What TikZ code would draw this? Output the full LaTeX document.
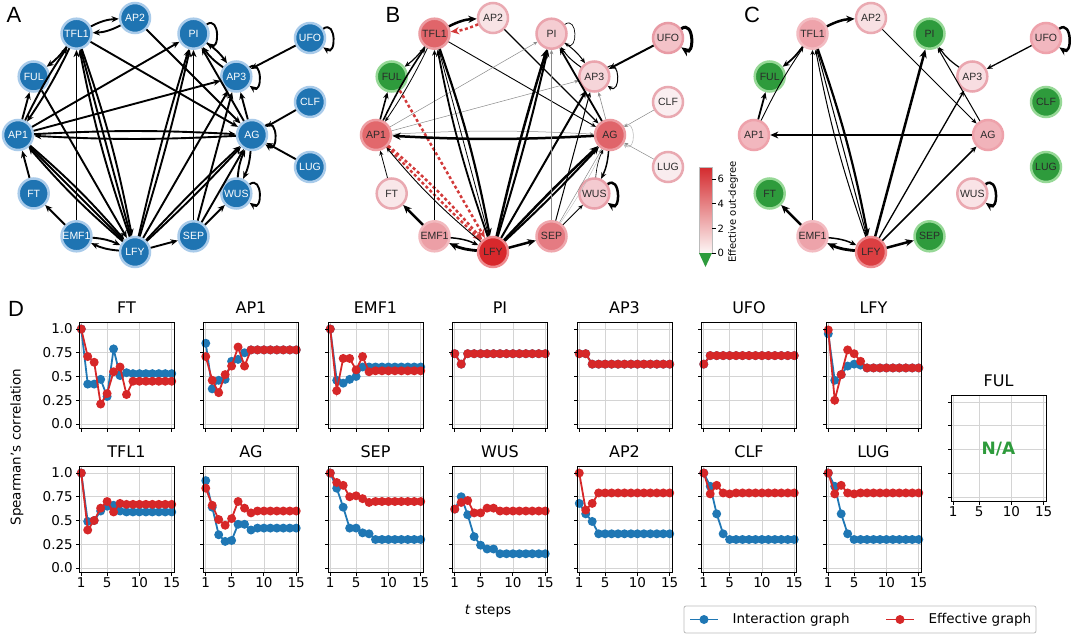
\documentclass[tikz,border=0pt]{standalone}
\usepackage{fontspec}
\setmainfont{DejaVu Sans}
\newfontfamily\arialf{Liberation Sans}
\usetikzlibrary{arrows.meta}
\definecolor{tabblue}{HTML}{1F77B4}
\definecolor{tabred}{HTML}{D62728}
\definecolor{ablue}{HTML}{1F74B2}
\definecolor{ablueb}{HTML}{A9CBEA}
\definecolor{gfill}{HTML}{2E9B3C}
\definecolor{gbord}{HTML}{96D896}
\definecolor{dred}{HTML}{D23A3A}
\definecolor{egray}{HTML}{8A8A8A}
\definecolor{lgray}{HTML}{BBBBBB}
\definecolor{gridc}{HTML}{D4D4D4}
\definecolor{ntext}{HTML}{2A2A2A}
\definecolor{cbtop}{HTML}{D42A2E}
\definecolor{cbmid}{HTML}{EE9EA6}
\definecolor{cbbot}{HTML}{FDF6F6}
% panel B colours
\definecolor{bfTFL1}{HTML}{E0656A}\definecolor{bdTFL1}{HTML}{EC9DA2}
\definecolor{bfAP2}{HTML}{F8E3E5}\definecolor{bdAP2}{HTML}{EAAAB2}
\definecolor{bfPI}{HTML}{F5CDD2}\definecolor{bdPI}{HTML}{EAA4AD}
\definecolor{bfUFO}{HTML}{F3C2C8}\definecolor{bdUFO}{HTML}{E89BA5}
\colorlet{bfFUL}{gfill}\colorlet{bdFUL}{gbord}
\definecolor{bfAP3}{HTML}{F6D5D9}\definecolor{bdAP3}{HTML}{EAA4AD}
\definecolor{bfCLF}{HTML}{FAEEF0}\definecolor{bdCLF}{HTML}{E9A9B1}
\definecolor{bfAP1}{HTML}{E2686C}\definecolor{bdAP1}{HTML}{EE9EA3}
\definecolor{bfAG}{HTML}{E0646A}\definecolor{bdAG}{HTML}{EC9AA0}
\definecolor{bfLUG}{HTML}{F9ECEE}\definecolor{bdLUG}{HTML}{E9A9B1}
\definecolor{bfFT}{HTML}{F9E7E9}\definecolor{bdFT}{HTML}{E9A9B1}
\definecolor{bfWUS}{HTML}{F4CAD0}\definecolor{bdWUS}{HTML}{E9A0AA}
\definecolor{bfEMF1}{HTML}{EC9FA6}\definecolor{bdEMF1}{HTML}{F2B9BE}
\definecolor{bfLFY}{HTML}{D8282C}\definecolor{bdLFY}{HTML}{EE8A8E}
\definecolor{bfSEP}{HTML}{E57B82}\definecolor{bdSEP}{HTML}{EFA7AD}
% panel C colours
\definecolor{cfTFL1}{HTML}{EEA3AB}\definecolor{cdTFL1}{HTML}{F3BCC2}
\definecolor{cfAP2}{HTML}{F8E0E3}\definecolor{cdAP2}{HTML}{EAAAB2}
\colorlet{cfPI}{gfill}\colorlet{cdPI}{gbord}
\definecolor{cfUFO}{HTML}{F2B7BF}\definecolor{cdUFO}{HTML}{EEA2AB}
\colorlet{cfFUL}{gfill}\colorlet{cdFUL}{gbord}
\definecolor{cfAP3}{HTML}{F8DDE1}\definecolor{cdAP3}{HTML}{EAA6AF}
\colorlet{cfCLF}{gfill}\colorlet{cdCLF}{gbord}
\definecolor{cfAP1}{HTML}{F2B7BE}\definecolor{cdAP1}{HTML}{EEA2AB}
\definecolor{cfAG}{HTML}{F1B3BA}\definecolor{cdAG}{HTML}{EEA2AB}
\colorlet{cfLUG}{gfill}\colorlet{cdLUG}{gbord}
\colorlet{cfFT}{gfill}\colorlet{cdFT}{gbord}
\definecolor{cfWUS}{HTML}{F9E3E6}\definecolor{cdWUS}{HTML}{EAA8B0}
\definecolor{cfEMF1}{HTML}{EDA3AA}\definecolor{cdEMF1}{HTML}{F3BCC2}
\definecolor{cfLFY}{HTML}{DB3F42}\definecolor{cdLFY}{HTML}{EE8C90}
\colorlet{cfSEP}{gfill}\colorlet{cdSEP}{gbord}

\tikzset{
  gn/.style={circle, minimum size=30pt, inner sep=0pt, line width=2.5pt,
    font=\arialf\fontsize{10.5}{11}\selectfont},
  ea/.style={-{Stealth[length=3pt 2.2,width'=0pt 0.85]}, line width=1.9pt, black},
  lw/.style={line width=#1pt},
  gr/.style={color=egray},
  lg/.style={color=lgray},
  rd/.style={dred, line width=2.5pt, dash pattern=on 3pt off 2.5pt,
    -{Stealth[length=3pt 2.2,width'=0pt 0.85]}},
  gridl/.style={gridc, line width=0.7pt},
  frm/.style={black, line width=1pt},
  tck/.style={black, line width=0.9pt},
  ser/.style={line width=1.8pt},
  ttl/.style={anchor=base, font=\fontsize{16}{18}\selectfont},
  tlab/.style={inner sep=1pt, font=\fontsize{13.5}{15}\selectfont},
  plab/.style={font=\arialf\fontsize{22}{24}\selectfont},
}

\newcommand\plotbg[2]{%
  \foreach \t in {1,5,10,15}{\draw[gridl] ({#1+(\t-0.65)*6.463},{#2+4.75}) -- ({#1+(\t-0.65)*6.463},{#2-101.65});}%
  \foreach \v in {0,0.25,0.5,0.75,1}{\draw[gridl] (#1,{#2-95*\v}) -- ({#1+95},{#2-95*\v});}%
}
\newcommand\series[4]{%
  \foreach \v [count=\t] in {#3}{\coordinate (s\t) at ({#1+(\t-0.65)*6.463},{#2-95*\v});}%
  \draw[ser,#4] (s1) \foreach \i in {2,...,15}{ -- (s\i)};%
  \foreach \i in {1,...,15}{\fill[#4] (s\i) circle (4.5pt);}%
}
\newcommand\plotfg[5]{%
  \draw[frm] (#1,{#2+4.75}) rectangle ({#1+95},{#2-101.65});%
  \foreach \t in {1,5,10,15}{\draw[tck] ({#1+(\t-0.65)*6.463},{#2+4.75}) -- ++(0,3.5);}%
  \foreach \v in {0,0.25,0.5,0.75,1}{\draw[tck] (#1,{#2-95*\v}) -- ++(-3.5,0);}%
  \node[ttl] (ttl#3) at ({#1+47.5},{#2-110.5}) {#3};%
  \ifnum#4=1 \foreach \v/\s [count=\k] in {0/0.0,0.25/0.25,0.5/0.5,0.75/0.75,1/1.0}{\node[tlab,anchor=east] (yl#3\k) at ({#1-5},{#2-95*\v}) {\s};}\fi
  \ifnum#5=1 \foreach \t in {1,5,10,15}{\node[tlab,anchor=north] (xl#3\t) at ({#1+(\t-0.65)*6.463},{#2+8.5}) {\t};}\fi
}
\newcommand\corrplot[7]{%
  \plotbg{#1}{#2}\series{#1}{#2}{#4}{tabblue}\series{#1}{#2}{#5}{tabred}\plotfg{#1}{#2}{#3}{#6}{#7}}

\begin{document}
\begin{tikzpicture}[x=1pt,y=-1pt]
\useasboundingbox (0,0) rectangle (1080,634);

% ---------------- panel labels
\node[plab] (lA) at (14,15) {A};
\node[plab] (lB) at (393,15) {B};
\node[plab] (lC) at (752,15) {C};
\node[plab] (lD) at (16,309) {D};

% ---------------- panel A nodes
\foreach \n/\dx/\dy in {AP2/0/-117, PI/58.5/-101.3, AP3/101.3/-58.5, AG/117/0, WUS/101.3/58.5, SEP/58.5/101.3, LFY/0/117, EMF1/-58.5/101.3, FT/-101.3/58.5, AP1/-117/0, FUL/-101.3/-58.5, TFL1/-58.5/-101.3, UFO/175/-97, CLF/175/-33, LUG/175/32}
  \node[gn, fill=ablue, draw=ablueb, text=white] (a\n) at ({135+\dx},{135+\dy}) {\n};

% panel A edges
\draw[ea] (aTFL1) to[bend left=12] (aAP2);
\draw[ea] (aAP2) to[bend left=12] (aTFL1);
\draw[ea] (aAP2) -- (aAG);
\draw[ea] (aTFL1) -- (aAG);
\draw[ea] (aTFL1) to[bend left=8] (aFUL);
\draw[ea] (aAP1) -- (aFUL);
\draw[ea] (aAP1) to[bend left=4] (aTFL1);
\draw[ea] (aTFL1) to[bend left=4] (aAP1);
\draw[ea] (aFUL) -- (aLFY);
\draw[ea] (aAP1) -- (aPI);
\draw[ea] (aAP1) -- (aAP3);
\draw[ea] (aAP1) to[bend left=3] (aAG);
\draw[ea] (aAG) to[bend left=3] (aAP1);
\draw[ea] (aAP1) to[bend left=4] (aLFY);
\draw[ea] (aAP1) -- (aLFY);
\draw[ea] (aLFY) to[bend left=4] (aAP1);
\draw[ea] (aFT) -- (aAP1);
\draw[ea] (aEMF1) -- (aFT);
\draw[ea] (aEMF1) -- (aTFL1);
\draw[ea] (aEMF1) to[bend left=10] (aLFY);
\draw[ea] (aLFY) to[bend left=10] (aEMF1);
\draw[ea] (aTFL1) to[bend left=4] (aLFY);
\draw[ea] (aLFY) to[bend left=4] (aTFL1);
\draw[ea] (aTFL1) -- (aLFY);
\draw[ea] (aLFY) -- (aSEP);
\draw[ea] (aLFY) to[bend left=2] (aPI);
\draw[ea] (aLFY) to[bend right=2] (aPI);
\draw[ea] (aLFY) -- (aAP3);
\draw[ea] (aLFY) to[bend left=2] (aAG);
\draw[ea] (aLFY) to[bend right=2] (aAG);
\draw[ea] (aSEP) -- (aPI);
\draw[ea] (aSEP) -- (aAP3);
\draw[ea] (aSEP) -- (aAG);
\draw[ea] (aSEP) -- (aWUS);
\draw[ea] (aAG) to[bend left=10] (aWUS);
\draw[ea] (aWUS) to[bend left=10] (aAG);
\draw[ea] (aAG) -- (aAP3);
\draw[ea] (aAG) -- (aPI);
\draw[ea] (aPI) to[bend left=10] (aAP3);
\draw[ea] (aAP3) to[bend left=10] (aPI);
\draw[ea] (aUFO) -- (aAP3);
\draw[ea] (aCLF) -- (aAG);
\draw[ea] (aLUG) -- (aAG);
\foreach \n in {PI,AP3,AG,WUS,UFO}
  \draw[ea] (a\n) to[out=35,in=-35,distance=16pt] (a\n);

% ---------------- panel B nodes
\foreach \n/\dx/\dy in {AP2/0/-117, PI/58.5/-101.3, AP3/101.3/-58.5, AG/117/0, WUS/101.3/58.5, SEP/58.5/101.3, LFY/0/117, EMF1/-58.5/101.3, FT/-101.3/58.5, AP1/-117/0, FUL/-101.3/-58.5, TFL1/-58.5/-101.3, UFO/175/-97, CLF/175/-33, LUG/175/32}
  \node[gn, fill=bf\n, draw=bd\n, text=ntext] (b\n) at ({493+\dx},{135+\dy}) {\n};

\draw[ea,lw=2.5] (bTFL1) to[bend left=12] (bAP2);
\draw[rd] (bAP2) to[bend left=8] (bTFL1);
\draw[ea,lw=1.2] (bAP2) -- (bAG);
\draw[ea,lw=0.9] (bTFL1) -- (bAG);
\draw[ea,lw=1.2] (bTFL1) to[bend left=8] (bFUL);
\draw[ea,lw=1.6] (bAP1) -- (bFUL);
\draw[ea,lw=1.6] (bAP1) to[bend left=4] (bTFL1);
\draw[ea,lw=0.8] (bTFL1) to[bend left=4] (bAP1);
\draw[rd] (bFUL) -- (bLFY);
\draw[ea,lw=0.5,gr] (bAP1) -- (bPI);
\draw[ea,lw=0.5,gr] (bAP1) -- (bAP3);
\draw[ea,lw=0.5,gr] (bAP1) to[bend left=3] (bAG);
\draw[ea,lw=2.5] (bAG) to[bend left=3] (bAP1);
\draw[rd] (bAP1) to[bend left=4] (bLFY);
\draw[rd] (bAP1) to[bend right=1] (bLFY);
\draw[ea,lw=0.9] (bLFY) to[bend left=5] (bAP1);
\draw[ea,lw=0.8] (bFT) -- (bAP1);
\draw[ea,lw=2.5] (bEMF1) -- (bFT);
\draw[ea,lw=1.2] (bEMF1) -- (bTFL1);
\draw[ea,lw=1.5] (bEMF1) to[bend left=10] (bLFY);
\draw[ea,lw=2.8] (bLFY) to[bend left=10] (bEMF1);
\draw[ea,lw=2.2] (bTFL1) to[bend left=4] (bLFY);
\draw[ea,lw=1.8] (bLFY) to[bend left=4] (bTFL1);
\draw[ea,lw=0.8] (bTFL1) -- (bLFY);
\draw[ea,lw=2.5] (bLFY) -- (bSEP);
\draw[ea,lw=2.5] (bLFY) to[bend left=2] (bPI);
\draw[ea,lw=2.0] (bLFY) to[bend right=2] (bPI);
\draw[ea,lw=2.0] (bLFY) -- (bAP3);
\draw[ea,lw=2.5] (bLFY) to[bend left=2] (bAG);
\draw[ea,lw=2.0] (bLFY) to[bend right=2] (bAG);
\draw[ea,lw=0.6,gr] (bSEP) -- (bPI);
\draw[ea,lw=1.0] (bSEP) -- (bAP3);
\draw[ea,lw=0.5,gr] (bSEP) -- (bAG);
\draw[ea,lw=0.4,lg] (bSEP) to[bend right=4] (bAG);
\draw[ea,lw=0.8] (bSEP) -- (bWUS);
\draw[ea,lw=1.5] (bAG) to[bend left=10] (bWUS);
\draw[ea,lw=0.6] (bWUS) to[bend left=10] (bAG);
\draw[ea,lw=0.6,gr] (bAG) -- (bAP3);
\draw[ea,lw=1.8] (bAG) -- (bPI);
\draw[ea,lw=1.0] (bPI) to[bend left=10] (bAP3);
\draw[ea,lw=1.0] (bAP3) to[bend left=10] (bPI);
\draw[ea,lw=2.0] (bUFO) -- (bAP3);
\draw[ea,lw=0.5,gr] (bCLF) -- (bAG);
\draw[ea,lw=0.5,gr] (bLUG) -- (bAG);
\draw[ea,lw=0.7] (bPI) to[out=35,in=-35,distance=16pt] (bPI);
\draw[ea,lw=1.0] (bAP3) to[out=35,in=-35,distance=16pt] (bAP3);
\draw[ea,lw=0.6,lg] (bAG) to[out=35,in=-35,distance=16pt] (bAG);
\draw[ea,lw=2.5] (bWUS) to[out=35,in=-35,distance=16pt] (bWUS);
\draw[ea,lw=3.0] (bUFO) to[out=35,in=-35,distance=16pt] (bUFO);

% colour bar
\shade[top color=cbtop, middle color=cbmid, bottom color=cbbot] (699,167) rectangle (712,253);
\draw[line width=0.4pt, lgray] (699,167) rectangle (712,253);
\fill[gfill] (699,253) -- (712,253) -- (705.5,267) -- cycle;
\foreach \v in {0,2,4,6}{
  \draw[line width=0.7pt] (712,{253-12.3*\v}) -- (715.5,{253-12.3*\v});
  \node[anchor=west, inner sep=1pt, font=\fontsize{10}{11}\selectfont] (cb\v) at (716.5,{253-12.3*\v}) {\v};
}
\node[rotate=90, font=\fontsize{10}{11}\selectfont] (cblab) at (733,212) {Effective out-degree};

% ---------------- panel C nodes
\foreach \n/\dx/\dy in {AP2/0/-117, PI/58.5/-101.3, AP3/101.3/-58.5, AG/117/0, WUS/101.3/58.5, SEP/58.5/101.3, LFY/0/117, EMF1/-58.5/101.3, FT/-101.3/58.5, AP1/-117/0, FUL/-101.3/-58.5, TFL1/-58.5/-101.3, UFO/175/-97, CLF/175/-33, LUG/175/32}
  \node[gn, fill=cf\n, draw=cd\n, text=ntext] (c\n) at ({871+\dx},{135+\dy}) {\n};

\draw[ea,lw=2.5] (cTFL1) to[bend left=12] (cAP2);
\draw[ea,lw=1.0] (cAP2) -- (cAG);
\draw[ea,lw=1.8] (cTFL1) to[bend left=8] (cFUL);
\draw[ea,lw=1.8] (cAP1) -- (cFUL);
\draw[ea,lw=0.9] (cAP1) to[bend left=4] (cTFL1);
\draw[ea,lw=2.3] (cAG) -- (cAP1);
\draw[ea,lw=0.9] (cEMF1) -- (cTFL1);
\draw[ea,lw=2.5] (cEMF1) -- (cFT);
\draw[ea,lw=1.5] (cEMF1) to[bend left=10] (cLFY);
\draw[ea,lw=2.8] (cLFY) to[bend left=10] (cEMF1);
\draw[ea,lw=2.2] (cTFL1) to[bend left=4] (cLFY);
\draw[ea,lw=1.0] (cLFY) to[bend left=4] (cTFL1);
\draw[ea,lw=1.0] (cTFL1) -- (cLFY);
\draw[ea,lw=2.5] (cLFY) -- (cSEP);
\draw[ea,lw=2.5] (cLFY) -- (cPI);
\draw[ea,lw=1.3] (cLFY) -- (cAP3);
\draw[ea,lw=1.5] (cLFY) -- (cAG);
\draw[ea,lw=1.0] (cAG) -- (cPI);
\draw[ea,lw=1.2] (cAP3) to[bend left=10] (cPI);
\draw[ea,lw=1.3] (cUFO) -- (cAP3);
\draw[ea,lw=2.5] (cWUS) to[out=35,in=-35,distance=16pt] (cWUS);
\draw[ea,lw=2.5] (cUFO) to[out=35,in=-35,distance=16pt] (cUFO);

% ---------------- panel D
\corrplot{79}{424}{FT}{1.0,0.42,0.42,0.47,0.29,0.79,0.51,0.54,0.53,0.53,0.53,0.53,0.53,0.53,0.53}{1.0,0.71,0.65,0.21,0.32,0.55,0.60,0.31,0.45,0.45,0.45,0.45,0.45,0.45,0.45}{1}{0}
\corrplot{203.5}{424}{AP1}{0.85,0.37,0.46,0.47,0.66,0.68,0.75,0.78,0.78,0.78,0.78,0.78,0.78,0.78,0.78}{0.71,0.46,0.33,0.52,0.61,0.81,0.61,0.78,0.78,0.78,0.78,0.78,0.78,0.78,0.78}{0}{0}
\corrplot{328}{424}{EMF1}{1.0,0.46,0.43,0.47,0.50,0.60,0.60,0.60,0.60,0.60,0.60,0.60,0.60,0.60,0.60}{1.0,0.35,0.69,0.69,0.57,0.71,0.55,0.56,0.56,0.56,0.56,0.56,0.56,0.56,0.56}{0}{0}
\corrplot{452.5}{424}{PI}{0.74,0.63,0.74,0.74,0.74,0.74,0.74,0.74,0.74,0.74,0.74,0.74,0.74,0.74,0.74}{0.74,0.63,0.74,0.74,0.74,0.74,0.74,0.74,0.74,0.74,0.74,0.74,0.74,0.74,0.74}{0}{0}
\corrplot{577}{424}{AP3}{0.74,0.74,0.63,0.63,0.63,0.63,0.63,0.63,0.63,0.63,0.63,0.63,0.63,0.63,0.63}{0.74,0.74,0.63,0.63,0.63,0.63,0.63,0.63,0.63,0.63,0.63,0.63,0.63,0.63,0.63}{0}{0}
\corrplot{701.5}{424}{UFO}{0.63,0.72,0.72,0.72,0.72,0.72,0.72,0.72,0.72,0.72,0.72,0.72,0.72,0.72,0.72}{0.63,0.72,0.72,0.72,0.72,0.72,0.72,0.72,0.72,0.72,0.72,0.72,0.72,0.72,0.72}{0}{0}
\corrplot{826}{424}{LFY}{0.95,0.46,0.52,0.61,0.63,0.62,0.59,0.59,0.59,0.59,0.59,0.59,0.59,0.59,0.59}{0.99,0.25,0.52,0.78,0.74,0.66,0.59,0.59,0.59,0.59,0.59,0.59,0.59,0.59,0.59}{0}{0}

\corrplot{79}{568}{TFL1}{1.0,0.49,0.50,0.60,0.65,0.66,0.60,0.59,0.59,0.59,0.59,0.59,0.59,0.59,0.59}{1.0,0.40,0.50,0.63,0.70,0.59,0.68,0.67,0.67,0.67,0.67,0.67,0.67,0.67,0.67}{1}{1}
\corrplot{203.5}{568}{AG}{0.92,0.64,0.35,0.28,0.29,0.46,0.46,0.40,0.42,0.42,0.42,0.42,0.42,0.42,0.42}{0.84,0.66,0.51,0.45,0.52,0.70,0.63,0.58,0.60,0.60,0.60,0.60,0.60,0.60,0.60}{0}{1}
\corrplot{328}{568}{SEP}{1.0,0.84,0.64,0.42,0.42,0.37,0.36,0.30,0.30,0.30,0.30,0.30,0.30,0.30,0.30}{1.0,0.90,0.87,0.75,0.76,0.73,0.69,0.70,0.70,0.70,0.70,0.70,0.70,0.70,0.70}{0}{1}
\corrplot{452.5}{568}{WUS}{0.62,0.75,0.56,0.33,0.24,0.20,0.20,0.15,0.15,0.15,0.15,0.15,0.15,0.15,0.15}{0.62,0.69,0.71,0.58,0.58,0.63,0.63,0.60,0.60,0.60,0.60,0.60,0.60,0.60,0.60}{0}{1}
\corrplot{577}{568}{AP2}{0.68,0.57,0.49,0.36,0.36,0.36,0.36,0.36,0.36,0.36,0.36,0.36,0.36,0.36,0.36}{1.0,0.61,0.68,0.79,0.79,0.79,0.79,0.79,0.79,0.79,0.79,0.79,0.79,0.79,0.79}{0}{1}
\corrplot{701.5}{568}{CLF}{1.0,0.86,0.57,0.36,0.30,0.30,0.30,0.30,0.30,0.30,0.30,0.30,0.30,0.30,0.30}{1.0,0.78,0.87,0.79,0.78,0.79,0.79,0.79,0.79,0.79,0.79,0.79,0.79,0.79,0.79}{0}{1}
\corrplot{826}{568}{LUG}{1.0,0.86,0.57,0.36,0.30,0.30,0.30,0.30,0.30,0.30,0.30,0.30,0.30,0.30,0.30}{1.0,0.78,0.87,0.79,0.78,0.79,0.79,0.79,0.79,0.79,0.79,0.79,0.79,0.79,0.79}{0}{1}

% FUL panel
\plotbg{951}{497}
\plotfg{951}{497}{FUL}{0}{1}
\node[font=\bfseries\fontsize{17}{19}\selectfont, text=gfill] (na) at (998.5,449) {N/A};

% axis labels
\node[rotate=90, font=\fontsize{13.5}{15}\selectfont] (ylab) at (17,447) {Spearman's correlation};
\node[font=\fontsize{13.5}{15}\selectfont] (xlab) at (488,611) {\textit{t} steps};

% legend
\node[draw=lgray, line width=0.8pt, rounded corners=2pt, fill=white, minimum width=352pt, minimum height=27pt, inner sep=0pt] (leg) at (860,619.5) {};
\draw[ser,tabblue] (690,619.5) -- (718,619.5);
\fill[tabblue] (704,619.5) circle (4.5pt);
\node[anchor=west, font=\fontsize{13.5}{15}\selectfont] (legi) at (729,619.5) {Interaction graph};
\draw[ser,tabred] (886,619.5) -- (914,619.5);
\fill[tabred] (900,619.5) circle (4.5pt);
\node[anchor=west, font=\fontsize{13.5}{15}\selectfont] (lege) at (925,619.5) {Effective graph};
\end{tikzpicture}
\end{document}
